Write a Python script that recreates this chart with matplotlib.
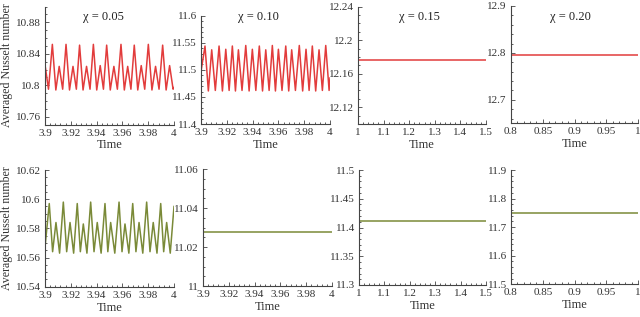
import numpy as np
import matplotlib
matplotlib.use('Agg')
import matplotlib.pyplot as plt
from matplotlib.ticker import MultipleLocator, AutoMinorLocator, FuncFormatter

plt.rcParams['font.family'] = ['Liberation Serif', 'DejaVu Serif']

# ---- data ----
labels = ['\u03c7 = 0.05', '\u03c7 = 0.10', '\u03c7 = 0.15', '\u03c7 = 0.20']

# top row, chi = 0.05 (oscillating)
t_top1 = [3.9000, 3.9027, 3.9057, 3.9084, 3.9110, 3.9137, 3.9163, 3.9190, 3.9217, 3.9243,
          3.9268, 3.9295, 3.9322, 3.9349, 3.9375, 3.9401, 3.9428, 3.9453, 3.9478, 3.9506,
          3.9534, 3.9561, 3.9589, 3.9615, 3.9641, 3.9666, 3.9692, 3.9719, 3.9746, 3.9773,
          3.9801, 3.9829, 3.9857, 3.9884, 3.9912, 3.9939, 3.9966, 3.9993, 4.0000]
nu_top1 = [10.826, 10.795, 10.852, 10.794, 10.824, 10.795, 10.852, 10.794, 10.824, 10.795,
           10.851, 10.794, 10.824, 10.795, 10.852, 10.794, 10.825, 10.795, 10.851, 10.794,
           10.824, 10.795, 10.852, 10.794, 10.824, 10.795, 10.851, 10.794, 10.825, 10.795,
           10.852, 10.794, 10.824, 10.795, 10.851, 10.794, 10.825, 10.795, 10.797]

# top row, chi = 0.10 (oscillating)
t_top2 = [3.9000, 3.9031, 3.9057, 3.9083, 3.9111, 3.9140, 3.9166, 3.9192, 3.9218, 3.9243,
          3.9267, 3.9290, 3.9318, 3.9347, 3.9373, 3.9398, 3.9425, 3.9452, 3.9477, 3.9502,
          3.9528, 3.9553, 3.9577, 3.9600, 3.9628, 3.9657, 3.9680, 3.9703, 3.9732, 3.9762,
          3.9788, 3.9814, 3.9838, 3.9863, 3.9889, 3.9915, 3.9941, 3.9967, 3.9993, 4.0000]
nu_top2 = [11.497, 11.544, 11.461, 11.537, 11.462, 11.544, 11.461, 11.538, 11.462, 11.544,
           11.461, 11.537, 11.462, 11.545, 11.461, 11.538, 11.462, 11.544, 11.461, 11.537,
           11.462, 11.545, 11.461, 11.538, 11.462, 11.544, 11.461, 11.537, 11.462, 11.545,
           11.461, 11.538, 11.462, 11.544, 11.461, 11.537, 11.462, 11.545, 11.462, 11.485]

# top row, chi = 0.15 and 0.20 (steady)
t_top3 = [1.0, 1.5]
nu_top3 = [12.1765, 12.1765]
t_top4 = [0.8, 1.0]
nu_top4 = [12.795, 12.795]

# bottom row, chi = 0.05 (oscillating)
t_bot1 = [3.9000, 3.9033, 3.9059, 3.9085, 3.9113, 3.9142, 3.9168, 3.9194, 3.9222, 3.9250,
          3.9274, 3.9297, 3.9325, 3.9354, 3.9380, 3.9405, 3.9435, 3.9465, 3.9487, 3.9509,
          3.9541, 3.9574, 3.9597, 3.9620, 3.9650, 3.9680, 3.9705, 3.9729, 3.9758, 3.9788,
          3.9814, 3.9839, 3.9868, 3.9897, 3.9920, 3.9943, 3.9971, 4.0000]
nu_bot1 = [10.567, 10.597, 10.564, 10.584, 10.563, 10.598, 10.564, 10.584, 10.563, 10.597,
           10.564, 10.583, 10.563, 10.598, 10.564, 10.584, 10.563, 10.597, 10.564, 10.584,
           10.563, 10.598, 10.564, 10.583, 10.563, 10.597, 10.564, 10.584, 10.563, 10.598,
           10.564, 10.584, 10.563, 10.597, 10.564, 10.584, 10.563, 10.595]

# bottom row, steady cases
t_bot2 = [3.9, 4.0]
nu_bot2 = [11.0279, 11.0279]
t_bot3 = [1.0, 1.5]
nu_bot3 = [11.4114, 11.4114]
t_bot4 = [0.8, 1.0]
nu_bot4 = [11.749, 11.749]

top_series = [(t_top1, nu_top1), (t_top2, nu_top2), (t_top3, nu_top3), (t_top4, nu_top4)]
bot_series = [(t_bot1, nu_bot1), (t_bot2, nu_bot2), (t_bot3, nu_bot3), (t_bot4, nu_bot4)]

xlims = [(3.9, 4.0), (3.9, 4.0), (1.0, 1.5), (0.8, 1.0)]
xsteps = [0.02, 0.02, 0.1, 0.05]
top_ylims = [(10.75, 10.9), (11.4, 11.6), (12.1, 12.24), (12.65, 12.9)]
top_ysteps = [0.04, 0.05, 0.04, 0.1]
top_yminor = [4, 5, 4, 5]
bot_ylims = [(10.54, 10.62), (11.0, 11.06), (11.3, 11.5), (11.5, 11.9)]
bot_ysteps = [0.02, 0.02, 0.05, 0.1]
bot_yminor = [4, 4, 5, 5]

red = '#e23c3c'
olive = '#7a8a38'

# axes boxes in pixels: left, top, right, bottom
W, H = 640, 317
top_boxes = [(45, 6.6, 174, 124.6), (201, 15.7, 330, 124), (358, 6.7, 486, 124), (511, 6, 638, 123.3)]
bot_boxes = [(45, 170, 174, 286.7), (203, 169, 332, 286), (359, 170, 486, 285), (511, 170, 638, 284.3)]
title_pos = [(103, 17), (258, 17), (419, 17), (570, 17)]


def fmt(v, _):
    s = ('%.4f' % v).rstrip('0').rstrip('.')
    return s


def make_axes(fig, box, t, nu, color, xlim, xstep, ylim, ystep, yminor):
    l, tp, r, b = box
    ax = fig.add_axes([l / W, 1 - b / H, (r - l) / W, (b - tp) / H])
    ax.plot(t, nu, color=color, lw=1.1)
    ax.set_xlim(*xlim)
    ax.set_ylim(*ylim)
    ax.xaxis.set_major_locator(MultipleLocator(xstep))
    ax.xaxis.set_minor_locator(AutoMinorLocator(5))
    ax.yaxis.set_major_locator(MultipleLocator(ystep))
    ax.yaxis.set_minor_locator(AutoMinorLocator(yminor))
    ax.xaxis.set_major_formatter(FuncFormatter(fmt))
    ax.yaxis.set_major_formatter(FuncFormatter(fmt))
    for s in ['top', 'right']:
        ax.spines[s].set_visible(False)
    for s in ['left', 'bottom']:
        ax.spines[s].set_linewidth(0.8)
        ax.spines[s].set_color('#444444')
    ax.tick_params(which='both', direction='in', colors='#444444', labelcolor='#333333',
                   labelsize=8, width=0.6)
    ax.tick_params(which='major', length=3.2, pad=3)
    ax.tick_params(which='minor', length=1.6)
    ax.set_xlabel('Time', fontsize=9, color='#333333', labelpad=1.2)
    ax.set_facecolor('none')
    return ax


fig = plt.figure(figsize=(6.4, 3.17), dpi=100)

for i in range(4):
    t, nu = top_series[i]
    make_axes(fig, top_boxes[i], t, nu, red, xlims[i], xsteps[i],
              top_ylims[i], top_ysteps[i], top_yminor[i])
    x, y = title_pos[i]
    fig.text(x / W, 1 - y / H, labels[i], ha='center', va='center', fontsize=9, color='#222222')

for i in range(4):
    t, nu = bot_series[i]
    make_axes(fig, bot_boxes[i], t, nu, olive, xlims[i], xsteps[i],
              bot_ylims[i], bot_ysteps[i], bot_yminor[i])

fig.text(6.7 / W, 1 - 65 / H, 'Averaged Nusselt number', rotation=90, ha='center', va='center',
         fontsize=8.6, color='#333333')
fig.text(6.7 / W, 1 - 228 / H, 'Averaged Nusselt number', rotation=90, ha='center', va='center',
         fontsize=8.6, color='#333333')

fig.savefig('out.png', dpi=100)
